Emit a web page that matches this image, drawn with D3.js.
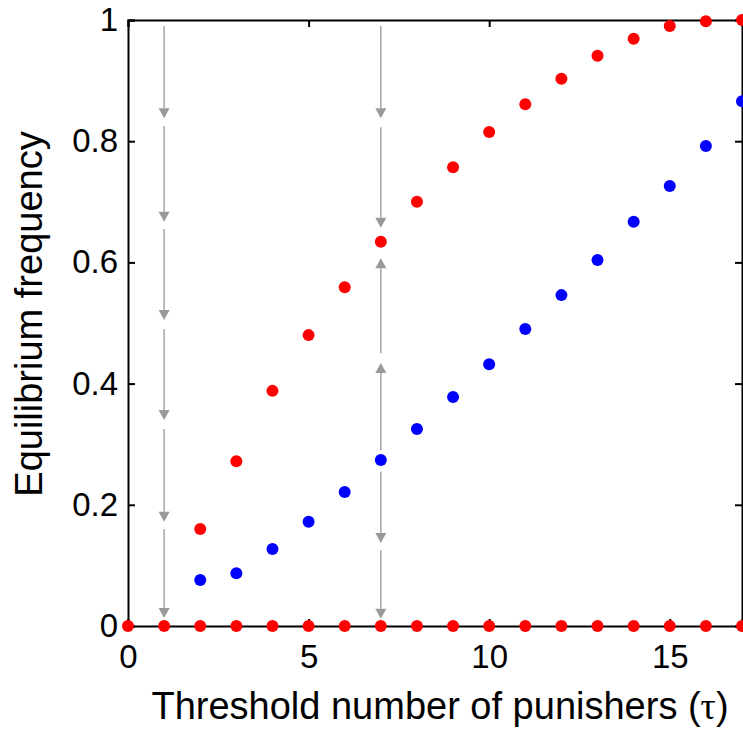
<!DOCTYPE html>
<html>
<head>
<meta charset="utf-8">
<script src="https://cdn.jsdelivr.net/npm/d3@7"></script>
<style>
  body { margin: 0; background: #fff; }
  text { font-family: "Liberation Sans", Arial, sans-serif; }
</style>
</head>
<body>
<svg></svg>
<script>
// values
const tau = [0, 1, 2, 3, 4, 5, 6, 7, 8, 9, 10, 11, 12, 13, 14, 15, 16, 17]
const tauInner = [2, 3, 4, 5, 6, 7, 8, 9, 10, 11, 12, 13, 14, 15, 16, 17]
const redUpper = [0.160, 0.272, 0.388, 0.480, 0.559, 0.634, 0.700, 0.757, 0.815, 0.861, 0.903, 0.941, 0.969, 0.990, 0.998, 1.0]
const blueMid = [0.076, 0.087, 0.127, 0.172, 0.221, 0.274, 0.325, 0.378, 0.432, 0.490, 0.546, 0.604, 0.667, 0.726, 0.792, 0.866]
const redZero = tau.map(() => 0)

// flow arrows: x, tail, head
const arrowX = [1, 1, 1, 1, 1, 1, 7, 7, 7, 7, 7, 7]
const arrowFrom = [0.99, 0.825, 0.655, 0.49, 0.325, 0.16, 0.99, 0.823, 0.29, 0.45, 0.255, 0.125]
const arrowTo = [0.838, 0.667, 0.505, 0.340, 0.172, 0.013, 0.838, 0.657, 0.434, 0.607, 0.137, 0.012]

const xTicks = [0, 5, 10, 15]
const yTicks = [0, 0.2, 0.4, 0.6, 0.8, 1]

const w = 743
const h = 730
const padLeft = 128
const padRight = 742
const padTop = 20
const padBottom = 626

const svg = d3.select('svg').attr('width', w).attr('height', h)

const xScale = d3.scaleLinear().domain([0, 17]).range([padLeft, padRight])
const yScale = d3.scaleLinear().domain([0, 1]).range([padBottom, padTop])

// arrows first so the frame and dots sit on top
const arrows = d3.range(arrowX.length).map(i => ({ x: arrowX[i], y0: arrowFrom[i], y1: arrowTo[i] }))

const headLen = 10
const headHalf = 5.5

svg.append('g').selectAll('line')
  .data(arrows)
  .enter()
  .append('line')
  .attr('x1', d => xScale(d.x))
  .attr('x2', d => xScale(d.x))
  .attr('y1', d => yScale(d.y0))
  .attr('y2', d => {
    const dir = d.y1 < d.y0 ? -1 : 1 // -1 = pointing down on screen
    return yScale(d.y1) + dir * headLen
  })
  .attr('stroke', '#aaaaaa')
  .attr('stroke-width', 1.6)

svg.append('g').selectAll('path')
  .data(arrows)
  .enter()
  .append('path')
  .attr('d', d => {
    const x = xScale(d.x)
    const tip = yScale(d.y1)
    const base = d.y1 < d.y0 ? tip - headLen : tip + headLen
    return 'M' + (x - headHalf) + ',' + base + 'L' + (x + headHalf) + ',' + base + 'L' + x + ',' + tip + 'Z'
  })
  .attr('fill', '#999999')

// frame with inward ticks
const frame = svg.append('g')

frame.append('g')
  .attr('transform', 'translate(0,' + padBottom + ')')
  .call(d3.axisBottom(xScale).tickValues(xTicks).tickSize(-7).tickPadding(19).tickFormat(d3.format('d')))
frame.append('g')
  .attr('transform', 'translate(0,' + padTop + ')')
  .call(d3.axisTop(xScale).tickValues(xTicks).tickSize(-7).tickFormat(''))
frame.append('g')
  .attr('transform', 'translate(' + padLeft + ',0)')
  .call(d3.axisLeft(yScale).tickValues(yTicks).tickSize(-7).tickPadding(10).tickFormat(d => d === 0 || d === 1 ? d3.format('d')(d) : d3.format('.1f')(d)))
frame.append('g')
  .attr('transform', 'translate(' + padRight + ',0)')
  .call(d3.axisRight(yScale).tickValues(yTicks).tickSize(-7).tickFormat(''))

frame.selectAll('.domain').attr('stroke', '#000').attr('stroke-width', 2)
frame.selectAll('.tick line').attr('stroke', '#000').attr('stroke-width', 2)
frame.selectAll('.tick text')
  .attr('fill', '#000')
  .style('font-size', '33px')

// axis titles, tau in a serif face like the original
const xTitle = svg.append('text')
  .attr('x', 440)
  .attr('y', 719)
  .attr('text-anchor', 'middle')
  .style('font-size', '38px')
xTitle.append('tspan').text('Threshold number of punishers (')
xTitle.append('tspan').style('font-family', '"Liberation Serif", "DejaVu Serif", serif').text('τ')
xTitle.append('tspan').text(')')

svg.append('text')
  .attr('transform', 'translate(42,314) rotate(-90)')
  .attr('text-anchor', 'middle')
  .style('font-size', '38px')
  .text('Equilibrium frequency')

// dots
const drawDots = (xs, ys, color) => {
  svg.append('g').selectAll('circle')
    .data(xs.map((x, i) => [x, ys[i]]))
    .enter()
    .append('circle')
    .attr('cx', d => xScale(d[0]))
    .attr('cy', d => yScale(d[1]))
    .attr('r', 6)
    .attr('fill', color)
}

drawDots(tau, redZero, '#ff0000')
drawDots(tauInner, blueMid, '#0000ff')
drawDots(tauInner, redUpper, '#ff0000')
</script>
</body>
</html>
